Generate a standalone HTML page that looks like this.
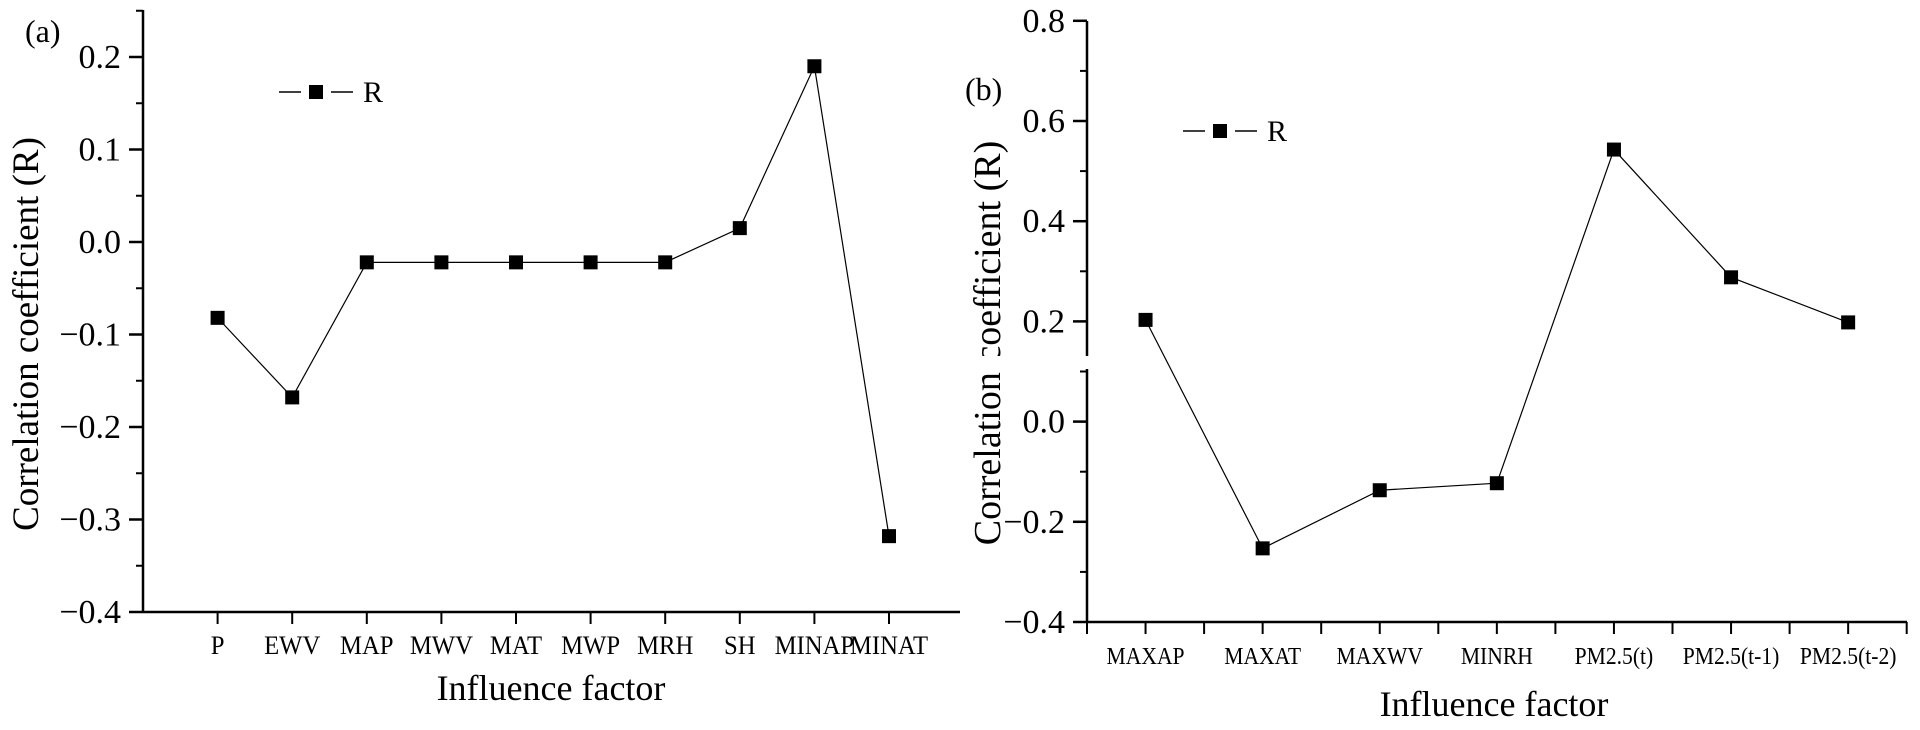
<!DOCTYPE html>
<html><head><meta charset="utf-8"><style>
html,body{margin:0;padding:0;background:#fff;}
svg{display:block;font-family:"Liberation Serif",serif;}
</style></head><body>
<svg id="chart" width="1920" height="730" viewBox="0 0 1920 730"></svg>
<script>
const catsA = ["P","EWV","MAP","MWV","MAT","MWP","MRH","SH","MINAP","MINAT"];
const valsA = [-0.082,-0.168,-0.022,-0.022,-0.022,-0.022,-0.022,0.015,0.19,-0.318];
const ticksA = [-0.4,-0.3,-0.2,-0.1,0.0,0.1,0.2];
const tickLabelsA = ["\u22120.4","\u22120.3","\u22120.2","\u22120.1","0.0","0.1","0.2"];
const catsB = ["MAXAP","MAXAT","MAXWV","MINRH","PM2.5(t)","PM2.5(t-1)","PM2.5(t-2)"];
const valsB = [0.203,-0.253,-0.137,-0.123,0.543,0.288,0.198];
const ticksB = [-0.4,-0.2,0.0,0.2,0.4,0.6,0.8];
const tickLabelsB = ["\u22120.4","\u22120.2","0.0","0.2","0.4","0.6","0.8"];

const NS="http://www.w3.org/2000/svg";
const svg=document.getElementById('chart');
function mk(tag,attrs,parent,text){const e=document.createElementNS(NS,tag);for(const k in attrs)e.setAttribute(k,attrs[k]);if(text!==undefined)e.textContent=text;(parent||svg).appendChild(e);return e;}

const ax0=143, ax1=960, ayTop=10, ayBot=612;
const xA=i=>ax0+(i+1)*74.6;
const yA=v=>612-(v+0.4)*925;
const bx0=1087, bx1=1907, byTop=21, byBot=622;
const xB=i=>bx0+(i+0.5)*117.1;
const yB=v=>622-(v+0.4)*501;

function panel(g, cats, vals, ticks, labels, xf, yf, x0, x1, yTop, yBot, minorStep, yMin, yMax, xMinorHalf, lblFont, lblScale){
  let e=mk('line',{x1:x0,y1:yTop,x2:x0,y2:yBot,stroke:'#000','stroke-width':2.5},g);
  
  
  e=mk('line',{x1:x0,y1:yBot,x2:x1,y2:yBot,stroke:'#000','stroke-width':2.5},g);
  
  
  for(let v=yMin; v<=yMax+1e-9; v+=minorStep){
    const y=yf(v);
    e=mk('line',{x1:x0-7,y1:y,x2:x0,y2:y,stroke:'#000','stroke-width':2},g);
    
    
  }
  ticks.forEach((t,i)=>{
    const y=yf(t);
    let l=mk('line',{x1:x0-14,y1:y,x2:x0,y2:y,stroke:'#000','stroke-width':2.5},g);
    
    
    let tx=mk('text',{x:x0-22,y:y+11,'text-anchor':'end','font-size':34},g,labels[i]);
    
    
  });
  cats.forEach((c,i)=>{
    const x=xf(i);
    let l=mk('line',{x1:x,y1:yBot,x2:x,y2:yBot+12,stroke:'#000','stroke-width':2},g);
    
    
    if(xMinorHalf){
      const xm=xf(i-0.5);
      l=mk('line',{x1:xm,y1:yBot,x2:xm,y2:yBot+12,stroke:'#000','stroke-width':2},g);
      
      
    }
    let tx=mk('text',{x:x,y:yBot+42,'text-anchor':'middle','font-size':lblFont,transform:`translate(${x},0) scale(${lblScale},1) translate(${-x},0)`},g,c);
    
    
  });
  if(xMinorHalf){const xm=xf(cats.length-0.5);let l=mk('line',{x1:xm,y1:yBot,x2:xm,y2:yBot+12,stroke:'#000','stroke-width':2},g);}
  const pts=vals.map((v,i)=>xf(i)+','+yf(v)).join(' ');
  let pl=mk('polyline',{points:pts,fill:'none',stroke:'#000','stroke-width':1.2},g);
  
  
  vals.forEach((v,i)=>{
    let r=mk('rect',{x:xf(i)-7,y:yf(v)-7,width:14,height:14,fill:'#000'},g);
    
    
  });
}

const gA=mk('g',{});


panel(gA,catsA,valsA,ticksA,tickLabelsA,xA,yA,ax0,ax1,ayTop,ayBot,0.05,-0.4,0.25,false,26,0.95);
const gB=mk('g',{});


panel(gB,catsB,valsB,ticksB,tickLabelsB,xB,yB,bx0,bx1,byTop,byBot,0.1,-0.4,0.8,true,24,0.9);

let t=mk('text',{x:0,y:0,'font-size':37,'text-anchor':'middle',transform:'translate(38,334) rotate(-90)'},gA,'Correlation coefficient (R)');


t=mk('text',{x:0,y:0,'font-size':38,'text-anchor':'middle',transform:'translate(1000,343) rotate(-90)'},gB,'Correlation coefficient (R)');


let br=mk('rect',{x:960,y:356,width:140,height:13,fill:'#fff'},gB);



t=mk('text',{x:551,y:700,'font-size':36,'text-anchor':'middle'},gA,'Influence factor');


t=mk('text',{x:1494,y:716,'font-size':36,'text-anchor':'middle'},gB,'Influence factor');


t=mk('text',{x:25,y:42,'font-size':32},gA,'(a)');


t=mk('text',{x:965,y:100,'font-size':32},gB,'(b)');



function legend(g,x,y){
  const lg=mk('g',{},g);
  
  
  mk('line',{x1:x,y1:y,x2:x+22,y2:y,stroke:'#000','stroke-width':1.5},lg);
  mk('rect',{x:x+30,y:y-7,width:14,height:14,fill:'#000'},lg);
  mk('line',{x1:x+52,y1:y,x2:x+74,y2:y,stroke:'#000','stroke-width':1.5},lg);
  mk('text',{x:x+84,y:y+10,'font-size':30},lg,'R');
}
legend(gA,279,92);
legend(gB,1183,131);
</script>
</body></html>
